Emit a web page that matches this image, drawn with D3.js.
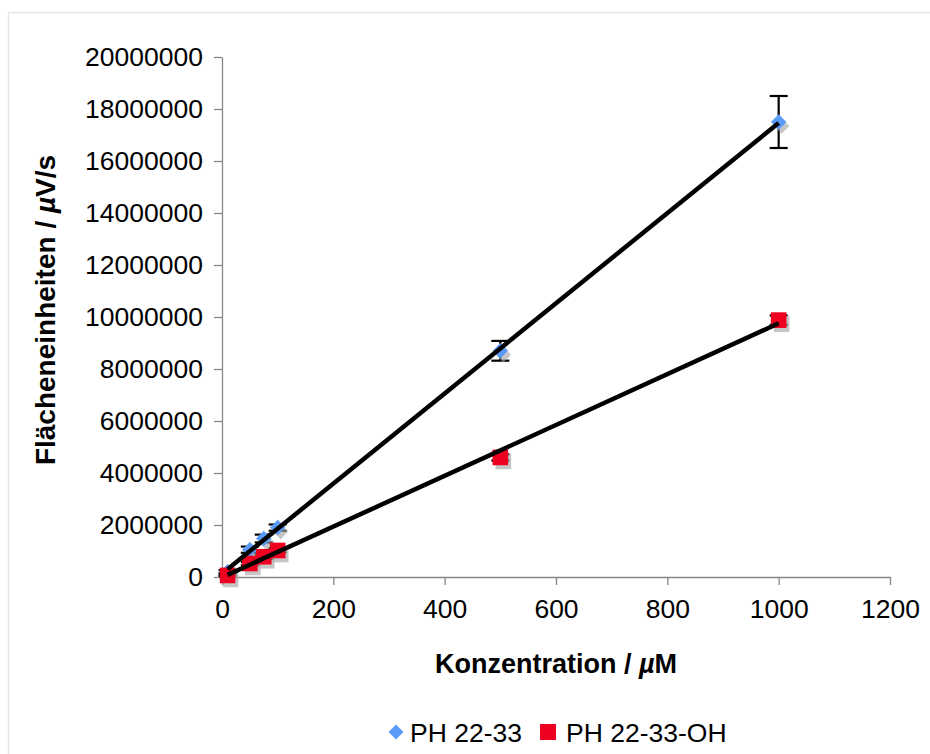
<!DOCTYPE html>
<html><head><meta charset="utf-8">
<script src="https://cdn.jsdelivr.net/npm/d3@7"></script>
<style>body{margin:0;background:#fff;}svg{display:block;}text{font-family:"Liberation Sans",Arial,sans-serif;fill:#000;}</style>
</head><body>
<script>
const conc = [10, 50, 75, 100, 500, 1000];
const seriesNames = ["PH 22-33", "PH 22-33-OH"];
const valsA = [200000, 1050000, 1480000, 1900000, 8700000, 17500000];
const errA  = [60000, 120000, 150000, 120000, 380000, 1000000];
const valsB = [60000, 520000, 780000, 1020000, 4600000, 9880000];
const errB  = [30000, 60000, 80000, 80000, 120000, 180000];
const xTicks = [0, 200, 400, 600, 800, 1000, 1200];
const yTicks = [0, 2000000, 4000000, 6000000, 8000000, 10000000, 12000000, 14000000, 16000000, 18000000, 20000000];
const colors = ["#5b9bf8", "#ee0020"];

const W = 930, H = 754;
const svg = d3.select("body").append("svg").attr("width", W).attr("height", H);
svg.append("rect").attr("x", 8.5).attr("y", 12.5).attr("width", 1000).attr("height", 1000)
  .attr("fill", "none").attr("stroke", "#e6e6e6").attr("stroke-width", 1.5);

const x = d3.scaleLinear().domain([0, 1200]).range([222, 890]);
const y = d3.scaleLinear().domain([0, 20000000]).range([577, 57]);

const yAxis = svg.append("g").attr("transform", "translate(222,0)")
  .call(d3.axisLeft(y).tickValues(yTicks).tickSize(8).tickSizeOuter(0).tickPadding(11).tickFormat(d3.format("d")));
const xAxis = svg.append("g").attr("transform", "translate(0,577)")
  .call(d3.axisBottom(x).tickValues(xTicks).tickSize(8).tickSizeOuter(0).tickPadding(14).tickFormat(d3.format("d")));
[yAxis, xAxis].forEach(g => {
  g.select(".domain").attr("stroke", "#888").attr("stroke-width", 1.3);
  g.selectAll(".tick line").attr("stroke", "#888").attr("stroke-width", 1.3);
  g.selectAll("text").attr("font-size", 26.5).attr("font-family", "Liberation Sans, Arial, sans-serif").attr("fill", "#000");
});

const xt = svg.append("text").attr("x", 556).attr("y", 673).attr("text-anchor", "middle")
  .attr("font-size", 27).attr("font-weight", "bold");
xt.append("tspan").text("Konzentration / ");
xt.append("tspan").attr("font-style", "italic").text("µ");
xt.append("tspan").text("M");
const yt = svg.append("text").attr("transform", "translate(55,310) rotate(-90)").attr("text-anchor", "middle")
  .attr("font-size", 28).attr("font-weight", "bold");
yt.append("tspan").text("Flächeneinheiten / ");
yt.append("tspan").attr("font-style", "italic").text("µ");
yt.append("tspan").text("V/s");

const series = [
  {name: seriesNames[0], vals: valsA, err: errA, color: colors[0], shape: "diamond"},
  {name: seriesNames[1], vals: valsB, err: errB, color: colors[1], shape: "square"}
];
const pts = s => conc.map((c, i) => ({c, v: s.vals[i], e: s.err[i]}));
function shapePath(s) {
  if (s.shape === "diamond") return d3.symbol().type(d3.symbolSquare).size(120)();
  return d3.symbol().type(d3.symbolSquare).size(245)();
}

// error bars (behind markers)
series.forEach(s => {
  const g = svg.append("g").attr("stroke", "#000").attr("stroke-width", 2.2);
  pts(s).forEach(d => {
    const cx = x(d.c), cap = 9;
    g.append("line").attr("x1", cx).attr("x2", cx).attr("y1", y(d.v + d.e)).attr("y2", y(d.v - d.e));
    g.append("line").attr("x1", cx - cap).attr("x2", cx + cap).attr("y1", y(d.v + d.e)).attr("y2", y(d.v + d.e));
    g.append("line").attr("x1", cx - cap).attr("x2", cx + cap).attr("y1", y(d.v - d.e)).attr("y2", y(d.v - d.e));
  });
});

// shadows + markers
series.forEach(s => {
  const g = svg.append("g");
  const rot = s.shape === "diamond" ? " rotate(45)" : "";
  g.selectAll("path.sh").data(pts(s)).join("path")
    .attr("d", shapePath(s))
    .attr("transform", d => `translate(${x(d.c)+3},${y(d.v)+4})${rot}`)
    .attr("fill", "#a0a0a0").attr("opacity", 0.6);
});
series.forEach(s => {
  const g = svg.append("g");
  const rot = s.shape === "diamond" ? " rotate(45)" : "";
  g.selectAll("path.mk").data(pts(s)).join("path")
    .attr("d", shapePath(s))
    .attr("transform", d => `translate(${x(d.c)},${y(d.v)})${rot}`)
    .attr("fill", s.color);
});

// linear trend lines (least squares)
series.forEach(s => {
  const mx = d3.mean(conc), my = d3.mean(s.vals);
  let sxy = 0, sxx = 0;
  conc.forEach((c, i) => { sxy += (c - mx) * (s.vals[i] - my); sxx += (c - mx) * (c - mx); });
  const m = sxy / sxx, b = my - m * mx;
  const x0 = d3.min(conc), x1 = d3.max(conc);
  svg.append("line")
    .attr("x1", x(x0)).attr("y1", y(m * x0 + b)).attr("x2", x(x1)).attr("y2", y(m * x1 + b))
    .attr("stroke", "#000").attr("stroke-width", 4.5).attr("stroke-linecap", "butt");
});

const leg = svg.append("g");
leg.append("path").attr("d", d3.symbol().type(d3.symbolSquare).size(110)())
  .attr("transform", "translate(396,732) rotate(45)").attr("fill", colors[0]);
leg.append("text").attr("x", 410).attr("y", 742).attr("font-size", 26.5).text(seriesNames[0]);
leg.append("rect").attr("x", 540).attr("y", 724).attr("width", 16).attr("height", 16).attr("fill", colors[1]);
leg.append("text").attr("x", 566).attr("y", 742).attr("font-size", 26.5).text(seriesNames[1]);
</script>
</body></html>
